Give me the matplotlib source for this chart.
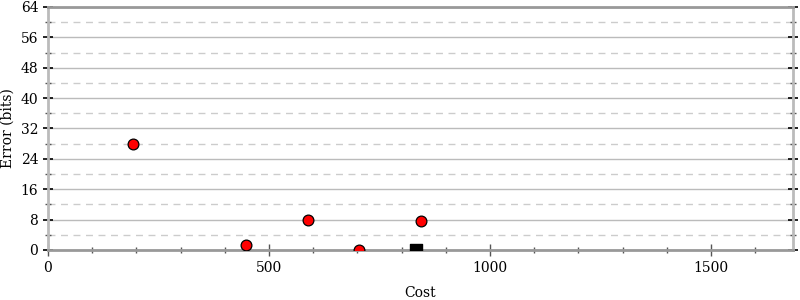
import matplotlib
matplotlib.use('Agg')
import matplotlib.pyplot as plt
from matplotlib.ticker import MultipleLocator

plt.rcParams['font.family'] = ['DejaVu Serif']

# data
cost_pts = [192, 449, 588, 703, 844]
err_pts = [28, 1.2, 7.9, 0, 7.6]
cost_best = [832]
err_best = [0]

fig = plt.figure(figsize=(8, 3), dpi=100)
ax = fig.add_axes([0.06, 0.1667, 0.931, 0.81])

ax.set_xlim(0, 1685)
ax.set_ylim(0, 64)
ax.yaxis.set_major_locator(MultipleLocator(8))
ax.yaxis.set_minor_locator(MultipleLocator(4))
ax.xaxis.set_major_locator(MultipleLocator(500))
ax.xaxis.set_minor_locator(MultipleLocator(100))

ax.grid(True, which='major', axis='y', color='#bbbbbb', lw=1, ls='-')
ax.grid(True, which='minor', axis='y', color='#cccccc', lw=1, ls=(0, (5, 4)))
ax.set_axisbelow(True)

ax.scatter(cost_pts, err_pts, s=60, c='red', edgecolors='black', linewidths=0.9, zorder=3)
ax.scatter(cost_best, err_best, s=80, marker='s', c='black', zorder=3)

ax.spines['left'].set_color('#bbbbbb'); ax.spines['left'].set_linewidth(2)
ax.spines['right'].set_color('#bbbbbb'); ax.spines['right'].set_linewidth(2)
ax.spines['bottom'].set_color('#999999'); ax.spines['bottom'].set_linewidth(2)
ax.spines['top'].set_color('#999999'); ax.spines['top'].set_linewidth(2)

ax.tick_params(axis='y', which='major', direction='inout', length=7, width=1.2, color='black',
               left=True, right=True, labelsize=10)
ax.tick_params(axis='y', which='minor', direction='inout', length=4, width=1, color='#555555',
               left=True, right=True)
ax.tick_params(axis='x', which='major', direction='inout', length=9, width=1, color='#555555',
               labelsize=10, top=False)
ax.tick_params(axis='x', which='minor', direction='inout', length=5, width=1, color='#555555',
               top=False)

ax.set_xlabel('Cost', fontsize=10, labelpad=8)
ax.set_ylabel('Error (bits)', fontsize=10)

fig.savefig('out.png', dpi=100)
